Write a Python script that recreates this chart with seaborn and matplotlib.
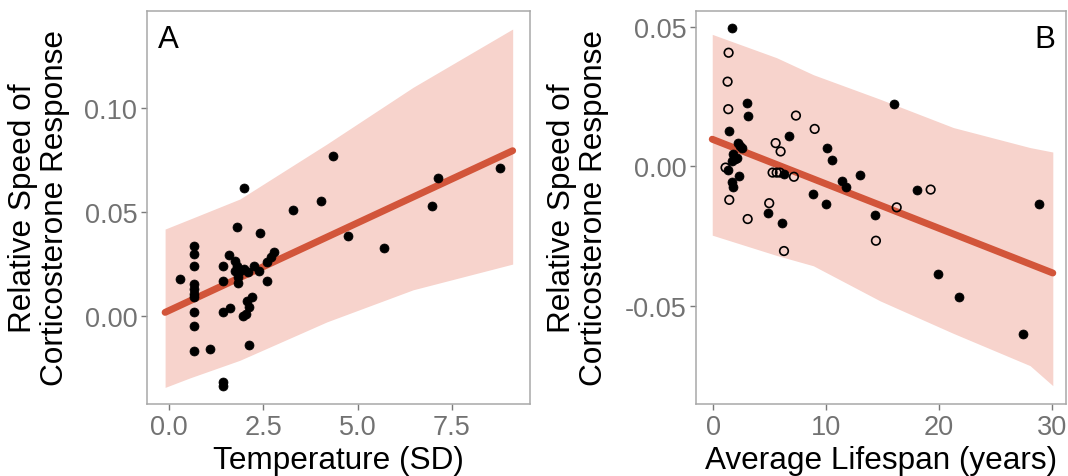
import matplotlib
matplotlib.use("Agg")
import matplotlib.pyplot as plt
import seaborn as sns
import numpy as np
import pandas as pd

# ---------------- Panel A data ----------------
temp_x = [0.28, 0.66, 0.66, 0.66, 0.66, 0.66, 0.66, 0.66, 0.66, 0.66, 0.66,
          1.09, 1.43, 1.43, 1.43, 1.43, 1.43, 1.61, 1.59, 1.80, 1.99, 2.40,
          1.74, 1.80, 1.74, 1.88, 1.83, 1.98, 2.10, 1.83, 2.25, 2.39, 2.60,
          2.78, 2.69, 2.60, 2.19, 2.05, 2.12, 2.03, 1.96, 2.11,
          3.29, 4.02, 4.35, 4.75, 5.69, 6.97, 7.12, 8.77]
temp_y = [0.0175, 0.0335, 0.0298, 0.0241, 0.0153, 0.0129, 0.0105, 0.0089, 0.0016, -0.0051, -0.0169,
          -0.0161, -0.0322, -0.0340, 0.0241, 0.0167, 0.0016, 0.0038, 0.0295, 0.0428, 0.0614, 0.0400,
          0.0265, 0.0241, 0.0217, 0.0217, 0.0185, 0.0225, 0.0209, 0.0158, 0.0241, 0.0217, 0.0258,
          0.0309, 0.0282, 0.0169, 0.0089, 0.0072, 0.0040, 0.0008, 0.0000, -0.0143,
          0.0511, 0.0552, 0.0772, 0.0386, 0.0327, 0.0531, 0.0666, 0.0714]

temp_fit_x = [-0.11, 9.11]
temp_fit_y = [0.0016, 0.0796]
temp_band_x = [-0.11, 0.55, 1.875, 4.18, 6.47, 9.11]
temp_band_lo = [-0.0346, -0.0300, -0.0215, -0.0030, 0.0125, 0.0249]
temp_band_hi = [0.0418, 0.0466, 0.0563, 0.0828, 0.1102, 0.1383]

# ---------------- Panel B data ----------------
life_filled_x = [1.69, 2.96, 3.05, 1.42, 2.22, 2.37, 2.52, 1.77, 2.07, 1.63, 1.92, 1.33,
                 2.30, 1.69, 1.77, 6.74, 6.29, 4.82, 6.06, 8.81, 10.11, 10.52, 9.99,
                 11.44, 11.76, 13.00, 14.34, 16.02, 18.03, 19.95, 21.81, 27.48, 28.90]
life_filled_y = [0.0499, 0.0227, 0.0180, 0.0126, 0.0086, 0.0074, 0.0068, 0.0044, 0.0032, 0.0020,
                 0.0026, -0.0013, -0.0036, -0.0057, -0.0075, 0.0110, -0.0028, -0.0169, -0.0204,
                 -0.0099, 0.0066, 0.0022, -0.0135, -0.0054, -0.0075, -0.0030, -0.0174, 0.0223,
                 -0.0083, -0.0387, -0.0468, -0.0602, -0.0135]
life_open_x = [1.36, 1.27, 1.33, 1.09, 1.42, 3.05, 4.96, 5.26, 5.62, 5.91, 5.53, 5.97,
               7.15, 7.33, 8.99, 6.27, 14.42, 16.26, 19.27]
life_open_y = [0.0409, 0.0305, 0.0206, -0.0004, -0.0120, -0.0189, -0.0132, -0.0022, -0.0022,
               -0.0022, 0.0084, 0.0054, -0.0037, 0.0183, 0.0135, -0.0304, -0.0267, -0.0147, -0.0083]

life_fit_x = [-0.09, 30.1]
life_fit_y = [0.0098, -0.0383]
life_band_x = [-0.09, 5.62, 8.87, 14.78, 21.28, 28.08, 30.1]
life_band_lo = [-0.0247, -0.0320, -0.0357, -0.0483, -0.0600, -0.0716, -0.0788]
life_band_hi = [0.0475, 0.0391, 0.0330, 0.0242, 0.0140, 0.0068, 0.0052]

# ---------------- styling ----------------
sns.set_theme(style="white")
plt.rcParams['font.family'] = ['Liberation Sans', 'DejaVu Sans']

RIBBON = "#F7D3CC"
LINE = "#D2553A"
FRAME = "#A8A8A8"
TICKTXT = "#727272"
TICK_FS = 19.5
TITLE_FS = 22.7
LETTER_FS = 22.5

fig = plt.figure(figsize=(10.68, 4.77), dpi=100)
W, H = 1068.0, 477.0

axA = fig.add_axes([147 / W, (H - 405) / H, (530 - 147) / W, (405 - 12) / H])
axB = fig.add_axes([696 / W, (H - 405) / H, (1066 - 696) / W, (405 - 12) / H])


def style_axis(ax):
    for sp in ax.spines.values():
        sp.set_color(FRAME)
        sp.set_linewidth(1.1)
    ax.tick_params(axis="both", which="major", length=4, width=1.0, color="#7a7a7a",
                   labelsize=TICK_FS, labelcolor=TICKTXT, pad=3,
                   bottom=True, left=True)
    ax.grid(False)


# Panel A
axA.fill_between(temp_band_x, temp_band_lo, temp_band_hi, color=RIBBON, lw=0, zorder=1)
sns.lineplot(x=temp_fit_x, y=temp_fit_y, ax=axA, color=LINE, linewidth=5, zorder=2)
sns.scatterplot(x=temp_x, y=temp_y, ax=axA, color="black", s=42, edgecolor="black",
                linewidth=0.5, zorder=3)
axA.set_xlim(-0.59, 9.57)
axA.set_ylim(-0.0426, 0.147)
axA.set_xticks([0.0, 2.5, 5.0, 7.5])
axA.set_xticklabels(["0.0", "2.5", "5.0", "7.5"])
axA.set_yticks([0.00, 0.05, 0.10])
axA.set_yticklabels(["0.00", "0.05", "0.10"])
style_axis(axA)
axA.set_xlabel("Temperature (SD)", fontsize=TITLE_FS, color="black")
axA.set_ylabel("Relative Speed of\nCorticosterone Response", fontsize=TITLE_FS,
               color="black", linespacing=1.05, va="center")
axA.yaxis.set_label_coords((39 - 147) / 383, 0.5)
axA.text(0.029, 0.908, "A", transform=axA.transAxes, fontsize=LETTER_FS,
         ha="left", va="baseline", color="black")

# Panel B
axB.fill_between(life_band_x, life_band_lo, life_band_hi, color=RIBBON, lw=0, zorder=1)
sns.lineplot(x=life_fit_x, y=life_fit_y, ax=axB, color=LINE, linewidth=5, zorder=2)
sns.scatterplot(x=life_filled_x, y=life_filled_y, ax=axB, color="black", s=42,
                edgecolor="black", linewidth=0.5, zorder=3)
sns.scatterplot(x=life_open_x, y=life_open_y, ax=axB, facecolor="none", s=38,
                edgecolor="black", linewidth=1.2, zorder=3)
axB.set_xlim(-1.53, 31.27)
axB.set_ylim(-0.0854, 0.0559)
axB.set_xticks([0, 10, 20, 30])
axB.set_xticklabels(["0", "10", "20", "30"])
axB.set_yticks([-0.05, 0.00, 0.05])
axB.set_yticklabels(["-0.05", "0.00", "0.05"])
style_axis(axB)
axB.set_xlabel("Average Lifespan (years)", fontsize=TITLE_FS, color="black")
axB.set_ylabel("Relative Speed of\nCorticosterone Response", fontsize=TITLE_FS,
               color="black", linespacing=1.05, va="center")
axB.yaxis.set_label_coords((578 - 696) / 370, 0.5)
axB.text(0.970, 0.908, "B", transform=axB.transAxes, fontsize=LETTER_FS,
         ha="right", va="baseline", color="black")

for ax in (axA, axB):
    ax.xaxis.labelpad = 3.5

fig.savefig("out.png", dpi=100)
